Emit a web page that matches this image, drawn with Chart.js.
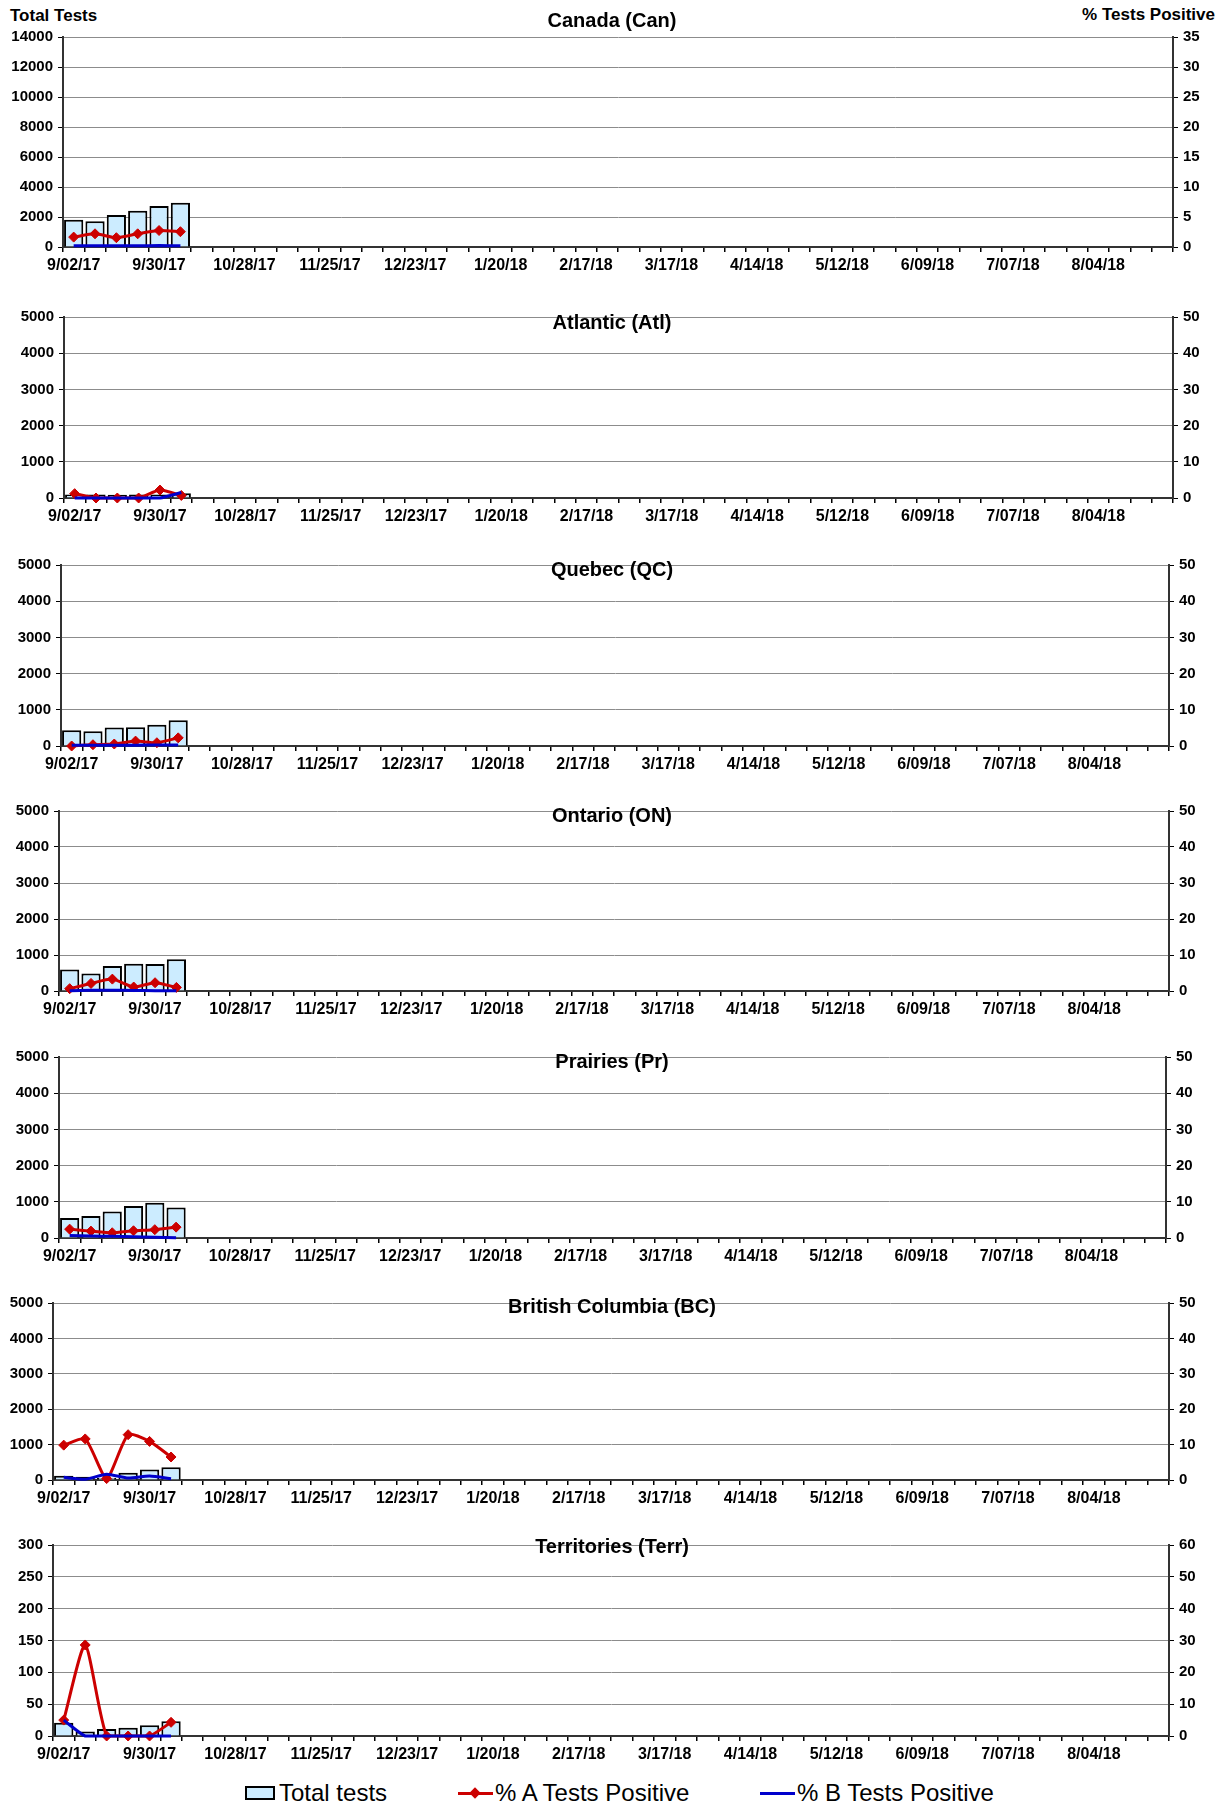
<!DOCTYPE html>
<html>
<head>
<meta charset="utf-8">
<script src="https://cdn.jsdelivr.net/npm/chart.js@4.4.1/dist/chart.umd.min.js"></script>
<style>
    body { margin: 0; background: #fff; width: 1219px; height: 1807px; position: relative; overflow: hidden;
           font-family: "Liberation Sans", Arial, sans-serif; }
    .panel { position: absolute; left: 0; width: 1219px; }
    .title { position: absolute; font-weight: bold; font-size: 20px; transform: translate(-50%, -50%); white-space: nowrap; z-index: 2; }
    .axisTitle { position: absolute; font-weight: bold; font-size: 17px; white-space: nowrap; transform: translateY(-50%); }
    .legend { position: absolute; top: 1793px; transform: translateY(-50%); font-size: 24px; white-space: nowrap; display: flex; align-items: center; }
    .box { display: inline-block; width: 30px; height: 14px; background: #CCECFF; border: 2px solid #000; box-sizing: border-box; margin-right: 4px; }
    .ln { display: inline-block; width: 35px; height: 3px; position: relative; margin-right: 2px; }
    .ln i { position: absolute; left: 13px; top: -3px; width: 8px; height: 8px; background: #CC0000; transform: rotate(45deg); }
</style>
</head>
<body>
<div class="axisTitle" style="left:10px; top:16px;">Total Tests</div>
<div class="axisTitle" style="right:4px; top:15px;">% Tests Positive</div>

<div class="legend" style="left:245px;"><span class="box"></span>Total tests</div>
<div class="legend" style="left:458px;"><span class="ln" style="background:#CC0000"><i></i></span>% A Tests Positive</div>
<div class="legend" style="left:760px;"><span class="ln" style="background:#0000CC"></span>% B Tests Positive</div>

<script>
// week ending dates, 2017-18 season
const weeks = [
    '9/02/17', '9/09/17', '9/16/17', '9/23/17', '9/30/17', '10/07/17', '10/14/17', '10/21/17',
    '10/28/17', '11/04/17', '11/11/17', '11/18/17', '11/25/17', '12/02/17', '12/09/17', '12/16/17',
    '12/23/17', '12/30/17', '1/06/18', '1/13/18', '1/20/18', '1/27/18', '2/03/18', '2/10/18',
    '2/17/18', '2/24/18', '3/03/18', '3/10/18', '3/17/18', '3/24/18', '3/31/18', '4/07/18',
    '4/14/18', '4/21/18', '4/28/18', '5/05/18', '5/12/18', '5/19/18', '5/26/18', '6/02/18',
    '6/09/18', '6/16/18', '6/23/18', '6/30/18', '7/07/18', '7/14/18', '7/21/18', '7/28/18',
    '8/04/18', '8/11/18', '8/18/18', '8/25/18'
];

const canTests = [1810, 1720, 2135, 2425, 2735, 2955];
const canPctA  = [1.65, 2.2, 1.55, 2.2, 2.75, 2.55];
const canPctB  = [0.2, 0.2, 0.2, 0.2, 0.25, 0.2];

const atlTests = [100, 95, 90, 95, 100, 130];
const atlPctA  = [1.2, 0, 0, 0, 2.2, 0.7];
const atlPctB  = [0, 0, 0, 0, 0, 1.5];

const qcTests = [435, 410, 510, 520, 590, 710];
const qcPctA  = [0, 0.35, 0.55, 1.35, 0.9, 2.25];
const qcPctB  = [0.2, 0.2, 0.2, 0.2, 0.3, 0.3];

const onTests = [595, 485, 695, 760, 750, 885];
const onPctA  = [0.65, 2.1, 3.3, 1.1, 2.3, 1.0];
const onPctB  = [0.1, 0.2, 0.2, 0.15, 0.1, 0.1];

const prTests = [555, 610, 730, 885, 975, 845];
const prPctA  = [2.45, 1.9, 1.45, 2.0, 2.3, 3.0];
const prPctB  = [0.7, 0.55, 0.45, 0.35, 0.2, 0.05];

const bcTests = [120, 95, 65, 205, 295, 360];
const bcPctA  = [9.85, 11.6, 0.4, 12.8, 10.9, 6.5];
const bcPctB  = [0.75, 0.2, 1.65, 0.55, 1.1, 0.35];

const terrTests = [21, 7, 11, 13, 17, 23];
const terrPctA  = [5.0, 28.6, 0, 0, 0, 4.3];
const terrPctB  = [5.0, 0, 0, 0, 0, 0];

const panels = [
    { title: 'Canada (Can)', tests: canTests, a: canPctA, b: canPctB, lMax: 14000, lStep: 2000, rMax: 35, rStep: 5 },
    { title: 'Atlantic (Atl)', tests: atlTests, a: atlPctA, b: atlPctB, lMax: 5000, lStep: 1000, rMax: 50, rStep: 10 },
    { title: 'Quebec (QC)', tests: qcTests, a: qcPctA, b: qcPctB, lMax: 5000, lStep: 1000, rMax: 50, rStep: 10 },
    { title: 'Ontario (ON)', tests: onTests, a: onPctA, b: onPctB, lMax: 5000, lStep: 1000, rMax: 50, rStep: 10 },
    { title: 'Prairies (Pr)', tests: prTests, a: prPctA, b: prPctB, lMax: 5000, lStep: 1000, rMax: 50, rStep: 10 },
    { title: 'British Columbia (BC)', tests: bcTests, a: bcPctA, b: bcPctB, lMax: 5000, lStep: 1000, rMax: 50, rStep: 10 },
    { title: 'Territories (Terr)', tests: terrTests, a: terrPctA, b: terrPctB, lMax: 300, lStep: 50, rMax: 60, rStep: 10 }
];

// plot area of each panel on the page: left, right, top, bottom, title y
const boxes = [
    [63, 1173, 35, 247, 20],
    [64, 1173, 315, 498, 322],
    [61, 1169, 563, 746, 569],
    [59, 1169, 809, 991, 815],
    [59, 1166, 1055, 1238, 1061],
    [53, 1169, 1301, 1480, 1306],
    [53, 1169, 1543, 1736, 1546]
];

const FONT = '"Liberation Sans", Arial, sans-serif';
const PAD_TOP = 12;
const X_H = 34;

panels.forEach((p, i) => {
    const [L, R, T, B, titleY] = boxes[i];
    const h = B - T + PAD_TOP + X_H;

    const wrap = document.createElement('div');
    wrap.className = 'panel';
    wrap.style.top = (T - PAD_TOP) + 'px';
    wrap.style.height = h + 'px';
    const canvas = document.createElement('canvas');
    canvas.width = 1219;
    canvas.height = h;
    wrap.appendChild(canvas);
    document.body.appendChild(wrap);

    const t = document.createElement('div');
    t.className = 'title';
    t.textContent = p.title;
    t.style.left = '612px';
    t.style.top = titleY + 'px';
    document.body.appendChild(t);

    new Chart(canvas, {
        type: 'bar',
        data: {
            labels: weeks,
            datasets: [
                {
                    type: 'line',
                    label: '% B Tests Positive',
                    data: p.b,
                    yAxisID: 'y1',
                    borderColor: '#0000CC',
                    borderWidth: 3,
                    pointRadius: 0,
                    tension: 0.2,
                    clip: false,
                    order: 1,
                },
                {
                    type: 'line',
                    label: '% A Tests Positive',
                    data: p.a,
                    yAxisID: 'y1',
                    borderColor: '#CC0000',
                    backgroundColor: '#CC0000',
                    borderWidth: 3,
                    pointStyle: 'rectRot',
                    pointRadius: 5,
                    pointBorderWidth: 1,
                    tension: 0.2,
                    clip: false,
                    order: 2,
                },
                {
                    type: 'bar',
                    label: 'Total tests',
                    data: p.tests,
                    yAxisID: 'y',
                    backgroundColor: '#CCECFF',
                    borderColor: '#000',
                    borderWidth: 2,
                    barPercentage: 0.9,
                    categoryPercentage: 1,
                    order: 3,
                },
            ],
        },
        options: {
            responsive: false,
            animation: false,
            layout: { padding: { top: PAD_TOP, left: 0, right: 0, bottom: 0 } },
            plugins: {
                legend: { display: false },
                tooltip: { enabled: false },
            },
            scales: {
                x: {
                    grid: { display: true, drawOnChartArea: false, offset: true, tickLength: 5, tickColor: '#000', lineWidth: 1.5 },
                    border: { display: true, color: '#333', width: 2 },
                    ticks: {
                        autoSkip: false,
                        maxRotation: 0,
                        minRotation: 0,
                        padding: 4,
                        color: '#000',
                        font: { family: FONT, size: 16, weight: 'bold' },
                        callback: function (v, idx) {
                            return idx % 4 === 0 ? this.getLabelForValue(v) : '';
                        },
                    },
                    afterFit: (s) => { s.height = X_H; },
                },
                y: {
                    position: 'left',
                    min: 0,
                    max: p.lMax,
                    ticks: {
                        stepSize: p.lStep, padding: 5, color: '#000',
                        font: { family: FONT, size: 15, weight: 'bold' },
                        callback: (v) => String(v),
                    },
                    grid: { color: '#8c8c8c', lineWidth: 1, tickLength: 5, tickColor: '#000' },
                    border: { color: '#333', width: 2 },
                    afterFit: (s) => { s.width = L; },
                },
                y1: {
                    position: 'right',
                    min: 0,
                    max: p.rMax,
                    ticks: {
                        stepSize: p.rStep, padding: 5, color: '#000',
                        font: { family: FONT, size: 15, weight: 'bold' },
                        callback: (v) => String(v),
                    },
                    grid: { drawOnChartArea: false, tickLength: 5, tickColor: '#000' },
                    border: { color: '#333', width: 2 },
                    afterFit: (s) => { s.width = 1219 - R; },
                },
            },
        },
    });
});
</script>
</body>
</html>
